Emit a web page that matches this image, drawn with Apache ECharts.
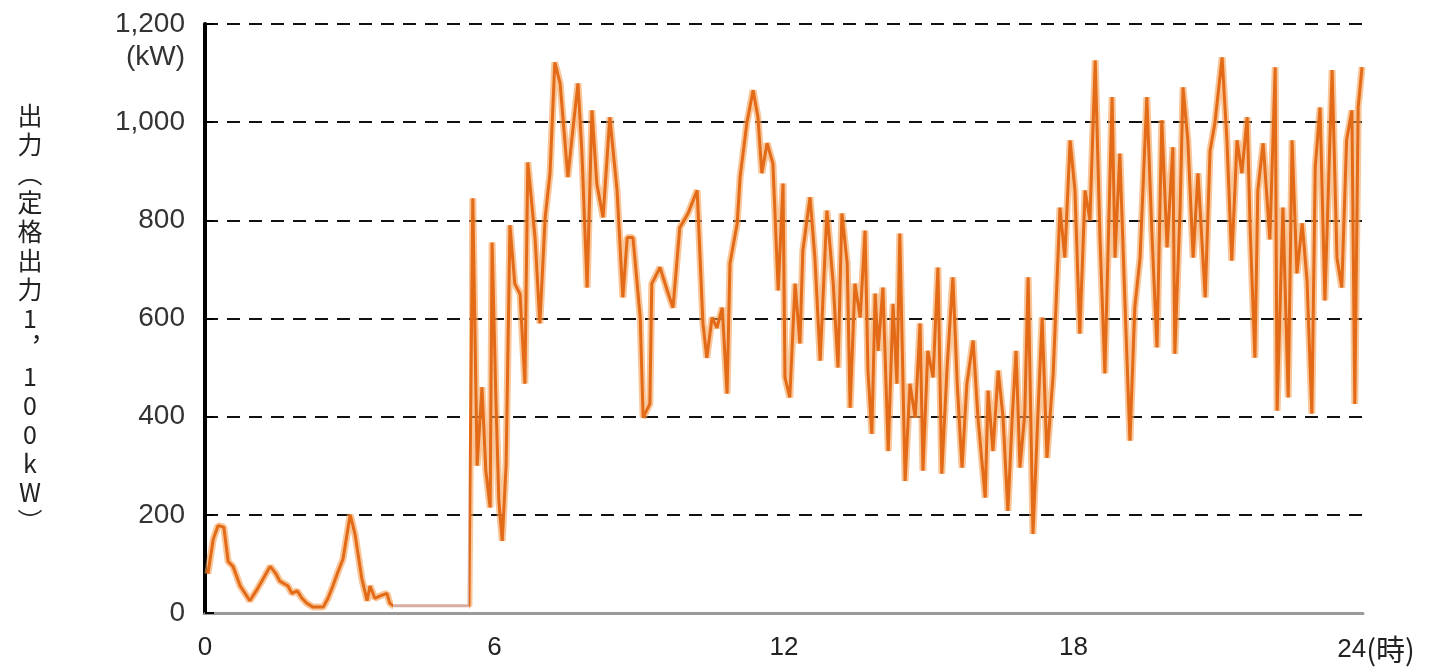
<!DOCTYPE html>
<html>
<head>
<meta charset="utf-8">
<script src="https://cdn.jsdelivr.net/npm/echarts@6/dist/echarts.min.js"></script>
<style>
html,body{margin:0;padding:0;background:#fff;}
#chart{width:1440px;height:667px;}
</style>
</head>
<body>
<div id="chart"></div>
<script>
// time of day (hours)
const hours = [
  0.06,0.17,0.27,0.39,0.48,0.58,0.73,0.83,0.93,1.06,1.18,1.35,1.47,1.55,1.72,1.80,1.91,2.01,2.11,2.24,
  2.45,2.55,2.65,2.76,2.86,3.01,3.11,3.25,3.36,3.42,3.52,3.63,3.77,3.83,3.90,5.47,
  5.49,5.55,5.64,5.74,5.82,5.91,5.95,6.03,6.09,6.16,6.24,6.32,6.42,6.53,6.63,6.69,6.84,6.94,7.05,7.15,
  7.25,7.36,7.52,7.63,7.73,7.81,7.92,8.02,8.12,8.25,8.39,8.54,8.66,8.75,8.87,9.02,9.08,9.22,9.26,9.43,
  9.58,9.70,9.84,10.01,10.20,10.32,10.40,10.51,10.61,10.72,10.82,10.88,11.03,11.09,11.23,11.36,11.46,11.54,11.65,11.77,
  11.88,11.98,12.02,12.12,12.23,12.33,12.39,12.54,12.64,12.75,12.89,13.02,13.12,13.20,13.31,13.37,13.47,13.58,13.68,13.74,
  13.82,13.89,13.95,14.05,14.16,14.26,14.34,14.40,14.51,14.61,14.72,14.82,14.88,14.98,15.09,15.19,15.27,15.38,15.50,15.59,
  15.69,15.79,15.92,16.02,16.17,16.23,16.33,16.44,16.54,16.64,16.73,16.81,16.89,16.99,17.06,17.16,17.26,17.35,17.45,17.58,
  17.72,17.82,17.93,18.03,18.13,18.24,18.34,18.45,18.55,18.65,18.80,18.86,18.96,19.07,19.17,19.27,19.38,19.52,19.63,19.73,
  19.83,19.94,20.06,20.10,20.21,20.27,20.37,20.48,20.58,20.73,20.83,20.93,21.08,21.18,21.28,21.39,21.49,21.60,21.66,21.76,
  21.82,21.93,22.07,22.18,22.22,22.34,22.45,22.53,22.63,22.74,22.84,22.94,23.01,23.11,23.21,23.36,23.46,23.56,23.66,23.77,
  23.83,23.90,23.98
];
// output (kW)
const outputKW = [
  80,150,178,175,105,95,55,40,25,45,65,95,80,65,55,40,45,30,20,12,
  12,30,55,85,110,200,160,70,25,55,30,35,40,20,15,15,
  240,845,300,460,290,215,755,430,230,147,300,790,671,650,467,918,765,590,806,895,
  1122,1079,888,990,1079,942,663,1024,875,806,1010,861,643,765,765,602,398,426,671,704,
  657,622,785,814,861,590,520,602,581,622,447,712,794,888,998,1065,1010,896,957,916,
  657,875,480,439,671,549,738,847,724,514,820,671,500,814,712,418,671,602,779,494,
  365,651,534,663,330,630,467,773,269,467,398,590,290,534,480,704,284,500,684,467,
  296,467,555,398,235,453,330,494,398,208,398,534,296,406,684,161,398,602,316,488,
  826,724,963,861,569,861,800,1126,761,488,1051,724,936,622,351,622,724,1051,761,541,
  1004,745,949,528,826,1071,963,724,896,643,942,998,1132,963,718,963,896,1010,786,520,
  861,957,761,1112,412,826,439,963,692,794,677,406,908,1030,637,1106,724,663,963,1024,
  426,1030,1112
];
// axis tick values
const xTicks = [0, 6, 12, 18, 24];
const yTicks = [0, 200, 400, 600, 800, 1000, 1200];
const yAxisTitle = ['出','力','︵','定','格','出','力','1','︐','1','0','0','k','W','︶'];
const xUnit = '(時)';
const yUnit = '(kW)';

const seriesData = hours.map((h, i) => [h, outputKW[i]]);
const fmtNum = v => String(v).replace(/\B(?=(\d{3})+(?!\d))/g, ',');
const labelFont = "'Liberation Sans', Arial, 'Noto Sans CJK JP', sans-serif";

const chart = echarts.init(document.getElementById('chart'), null, {renderer: 'canvas'});
chart.setOption({
  animation: false,
  backgroundColor: '#ffffff',
  grid: {left: 205, right: 77, top: 24, bottom: 54, outerBoundsMode: 'none', containLabel: false},
  xAxis: {
    type: 'value',
    min: xTicks[0],
    max: xTicks[xTicks.length - 1],
    interval: 6,
    axisLine: {show: true, lineStyle: {color: '#9a9a9a', width: 3}},
    axisTick: {show: false},
    splitLine: {show: false},
    axisLabel: {
      fontSize: 26, color: '#222', fontFamily: labelFont, margin: 22,
      formatter: v => v === 24 ? '{p|}' + v + '{u|' + xUnit + '}' : String(v),
      rich: {
        p: {width: 26},
        u: {fontSize: 29, color: '#222', fontFamily: "'Noto Sans CJK JP', sans-serif"}
      }
    }
  },
  yAxis: [{
    type: 'value',
    min: yTicks[0],
    max: yTicks[yTicks.length - 1],
    interval: 200,
    name: yAxisTitle.join('\n'),
    nameLocation: 'middle',
    nameRotate: 0,
    nameGap: 175,
    nameTextStyle: {
      fontSize: 25, lineHeight: 29, color: '#222',
      fontFamily: "'Noto Sans CJK JP', sans-serif",
      align: 'center', verticalAlign: 'middle'
    },
    axisLine: {show: true, onZero: false, lineStyle: {color: '#000', width: 3}},
    axisTick: {show: true, inside: true, length: 9, lineStyle: {color: '#000', width: 2}},
    splitLine: {show: true, lineStyle: {color: '#111', width: 2, type: [13, 9]}},
    axisLabel: {
      fontSize: 28, lineHeight: 33, color: '#333', fontFamily: labelFont, margin: 20,
      formatter: v => v === 1200 ? '\n' + fmtNum(v) + '\n' + yUnit : fmtNum(v)
    }
  }, {
    type: 'value',
    position: 'right',
    min: yTicks[0],
    max: yTicks[yTicks.length - 1],
    interval: 200,
    axisLine: {show: true, lineStyle: {color: '#000', width: 4}},
    axisTick: {show: false},
    axisLabel: {show: false},
    splitLine: {show: false}
  }],
  visualMap: [{
    show: false, type: 'piecewise', dimension: 0, seriesIndex: 1,
    pieces: [
      {lt: 3.9, color: '#E36A16'},
      {gte: 3.9, lte: 5.47, color: '#D7ADA2'},
      {gt: 5.47, color: '#E36A16'}
    ]
  }, {
    show: false, type: 'piecewise', dimension: 0, seriesIndex: 0,
    pieces: [
      {lt: 3.9, color: 'rgba(244,160,85,0.6)'},
      {gte: 3.9, lte: 5.47, color: 'rgba(255,255,255,0)'},
      {gt: 5.47, color: 'rgba(244,160,85,0.6)'}
    ]
  }],
  series: [{
    type: 'line',
    data: seriesData,
    showSymbol: false,
    silent: true,
    z: 1,
    lineStyle: {width: 7}
  }, {
    type: 'line',
    data: seriesData,
    showSymbol: false,
    z: 2,
    lineStyle: {width: 3}
  }]
});
</script>
</body>
</html>
